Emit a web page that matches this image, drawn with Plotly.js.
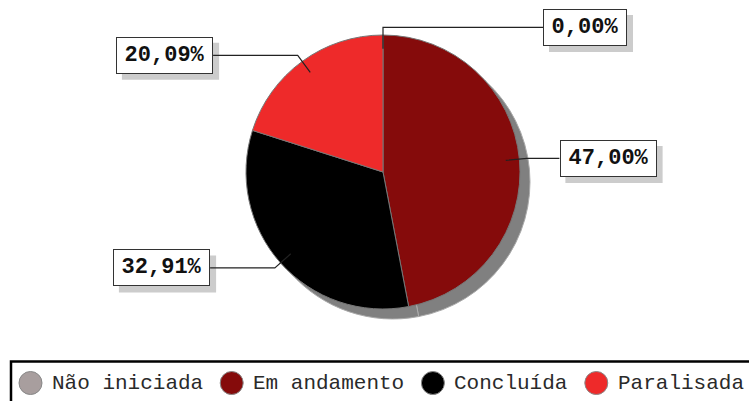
<!DOCTYPE html>
<html>
<head>
<meta charset="utf-8">
<script src="https://cdn.plot.ly/plotly-3.0.1.min.js"></script>
<style>html,body{margin:0;padding:0;background:#fff;}#chart{width:749px;height:401px;}</style>
</head>
<body>
<div id="chart"></div>
<script>
const categories = ['Não iniciada', 'Em andamento', 'Concluída', 'Paralisada'];
const values = [0.00, 47.00, 32.91, 20.09];
const colors = ['#A89E9E', '#850B0B', '#000000', '#EE2A2A'];
const labelTexts = values.map(v => v.toFixed(2).replace('.', ',') + '%');

// layout constants (pixels)
const W = 749, H = 401;
const cx = 383, cy = 172, R = 137;
const shadowOff = 10;
const labelCenterX = [585, 608, 161.5, 164.5];
const charW = 13.2;
const boxH = 33;
const legendTextX0 = 52, legendY = 383, legendCharW = 12.6, legendGap = 50;

const px = x => x / W;
const py = y => 1 - y / H;

const total = values.reduce((a, b) => a + b, 0);
const traces = [
  {
    type: 'pie', values: values, labels: categories, sort: false, direction: 'clockwise',
    rotation: 0, textinfo: 'none', hoverinfo: 'none', showlegend: false,
    marker: {colors: categories.map(() => '#808080'), line: {color: '#aaaaaa', width: 1}},
    domain: {x: [px(cx - R + shadowOff), px(cx + R + shadowOff)], y: [py(cy + R + shadowOff), py(cy - R + shadowOff)]}
  },
  {
    type: 'pie', values: values, labels: categories, sort: false, direction: 'clockwise',
    rotation: 0, textinfo: 'none', hoverinfo: 'none', showlegend: false,
    marker: {colors: colors, line: {color: '#777777', width: 1}},
    domain: {x: [px(cx - R), px(cx + R)], y: [py(cy + R), py(cy - R)]}
  }
];

const shapes = [];
const annotations = [];
let cum = 0;
values.forEach((v, i) => {
  const f = (cum + v / 2) / total;
  cum += v;
  const th = 2 * Math.PI * f;
  const dx = Math.sin(th), dy = -Math.cos(th);
  const ax = cx + 0.9 * R * dx, ay = cy + 0.9 * R * dy;
  const ex = cx + 1.055 * R * dx, ey = cy + 1.055 * R * dy;
  const n = labelTexts[i].length;
  const boxW = n * charW + 14;
  const outerW = boxW + 4, outerH = boxH + 4;
  const edge = dx >= 0 ? labelCenterX[i] - outerW / 2 : labelCenterX[i] + outerW / 2;
  // label shadow
  shapes.push({
    type: 'rect', xref: 'paper', yref: 'paper',
    x0: px(labelCenterX[i] - outerW / 2 + 6), x1: px(labelCenterX[i] + outerW / 2 + 6),
    y0: py(ey + outerH / 2 + 6), y1: py(ey - outerH / 2 + 6),
    fillcolor: '#cccccc', line: {width: 0}
  });
  shapes.push({
    type: 'path', xref: 'paper', yref: 'paper',
    path: `M ${px(ax)} ${py(ay)} L ${px(ex)} ${py(ey)} L ${px(edge)} ${py(ey)}`,
    line: {color: '#222222', width: 1.2}
  });
  annotations.push({
    xref: 'paper', yref: 'paper', x: px(labelCenterX[i]), y: py(ey),
    xanchor: 'center', yanchor: 'middle', showarrow: false,
    width: boxW, height: boxH, borderpad: 1, borderwidth: 1,
    text: '<b>' + labelTexts[i] + '</b>', bgcolor: '#ffffff', bordercolor: '#333333',
    font: {family: 'Liberation Mono', size: 22, color: '#111111'}
  });
});

// legend box
shapes.push({
  type: 'rect', xref: 'paper', yref: 'paper',
  x0: px(11), x1: px(W + 20), y0: py(361.5), y1: py(H + 20),
  line: {color: '#000000', width: 2.5}, fillcolor: 'rgba(0,0,0,0)'
});
let tx = legendTextX0;
categories.forEach((c, i) => {
  const ccx = tx - 21.5;
  shapes.push({
    type: 'circle', xref: 'paper', yref: 'paper',
    x0: px(ccx - 11.5), x1: px(ccx + 11.5), y0: py(legendY + 11.5), y1: py(legendY - 11.5),
    fillcolor: colors[i], line: {color: '#888888', width: 1}
  });
  annotations.push({
    xref: 'paper', yref: 'paper', x: px(tx - 2), y: py(legendY), xanchor: 'left', yanchor: 'middle',
    showarrow: false, text: c, font: {family: 'Liberation Mono', size: 21, color: '#2a2a2a'}
  });
  tx += c.length * legendCharW + legendGap;
});

const layout = {
  width: W, height: H, margin: {l: 0, r: 0, t: 0, b: 0},
  paper_bgcolor: '#ffffff', plot_bgcolor: '#ffffff', showlegend: false,
  shapes: shapes, annotations: annotations
};
Plotly.newPlot('chart', traces, layout, {displayModeBar: false, staticPlot: true});
</script>
</body>
</html>
